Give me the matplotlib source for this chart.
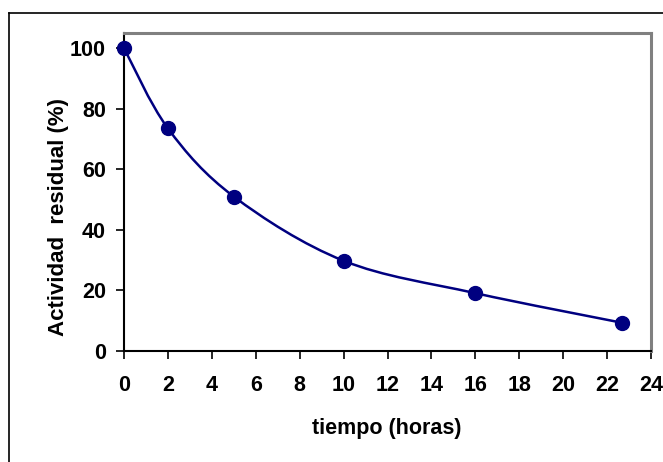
import numpy as np
import matplotlib
matplotlib.use('Agg')
import matplotlib.pyplot as plt
from matplotlib.path import Path
from matplotlib.patches import PathPatch
from matplotlib.lines import Line2D

# datos
tiempo = [0, 2, 5, 10, 16, 22.7]
actividad = [100, 73.5, 51, 29.8, 19.1, 9.3]
x_ticks = [0, 2, 4, 6, 8, 10, 12, 14, 16, 18, 20, 22, 24]
y_ticks = [0, 20, 40, 60, 80, 100]

plt.rcParams['font.family'] = ['Liberation Sans', 'DejaVu Sans']
plt.rcParams['font.weight'] = 'bold'

fig = plt.figure(figsize=(6.63, 4.62), dpi=100)
ax = fig.add_axes([124 / 663, 1 - 351 / 462, (651 - 124) / 663, (351 - 33) / 462])

# curva suavizada tipo Excel (Bezier / Catmull-Rom)
pts = np.column_stack([tiempo, actividad])
verts = [pts[0]]
codes = [Path.MOVETO]
n = len(pts)
for i in range(n - 1):
    p0 = pts[max(i - 1, 0)]
    p1 = pts[i]
    p2 = pts[i + 1]
    p3 = pts[min(i + 2, n - 1)]
    c1 = p1 + (p2 - p0) / 6
    c2 = p2 - (p3 - p1) / 6
    verts += [c1, c2, p2]
    codes += [Path.CURVE4] * 3
ax.add_patch(PathPatch(Path(verts, codes), fill=False, edgecolor='#000080', lw=1.8, zorder=2))
ax.plot(tiempo, actividad, 'o', color='#000080', markersize=10, zorder=3, clip_on=False)

ax.set_xlim(0, 24)
ax.set_ylim(0, 105)
ax.set_xticks(x_ticks)
ax.set_yticks(y_ticks)
ax.tick_params(axis='both', labelsize=15.5, length=6, width=1.2, color='black', direction='out')
ax.tick_params(axis='x', pad=11)
ax.tick_params(axis='y', pad=7)

for s in ['top', 'right']:
    ax.spines[s].set_color('#808080')
    ax.spines[s].set_linewidth(2.2)
for s in ['left', 'bottom']:
    ax.spines[s].set_color('black')
    ax.spines[s].set_linewidth(1.5)

ax.set_xlabel('tiempo (horas)', fontsize=15.5, fontweight='bold')
ax.set_ylabel('Actividad  residual (%)', fontsize=16, fontweight='bold')
ax.xaxis.set_label_coords(0.499, -0.245)
ax.yaxis.set_label_coords(-0.125, 0.422)
ax.xaxis.label.set_va('center')
ax.yaxis.label.set_va('center')

# marco exterior del gráfico
fig.add_artist(Line2D([9 / 663, 9 / 663], [0, 1 - 13 / 462], color='black', lw=1.2))
fig.add_artist(Line2D([9 / 663, 1], [1 - 13 / 462, 1 - 13 / 462], color='black', lw=1.2))

fig.savefig('out.png', dpi=100)
